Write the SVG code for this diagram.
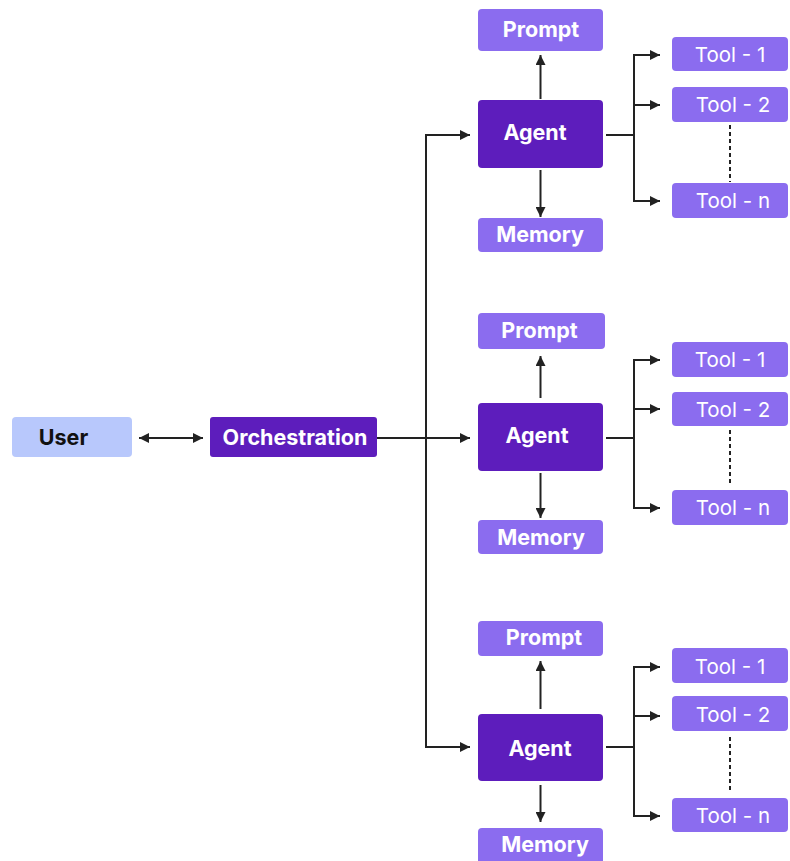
<svg xmlns="http://www.w3.org/2000/svg" width="790" height="861" viewBox="0 0 790 861">
<style>
.user{fill:#b8c8fc}
.dark{fill:#5d1dbc}
.light{fill:#8b6cef}
.t{font-family:Inter,"Liberation Sans",sans-serif;font-size:20.5px;fill:#fff;text-anchor:middle}
.b{font-weight:700;font-size:21.5px}
.k{fill:#111}
.c{fill:none;stroke:#222;stroke-width:2}
.d{fill:none;stroke:#222;stroke-width:2;stroke-dasharray:4 3}
</style>
<defs>
<marker id="ah" markerUnits="userSpaceOnUse" markerWidth="10" markerHeight="10" refX="10" refY="5" orient="auto-start-reverse">
<path d="M0,0 L10,5 L0,10 z" fill="#222"/>
</marker>
</defs>
<g id="connectors">
<line class="c" x1="139" y1="438" x2="203" y2="438" marker-start="url(#ah)" marker-end="url(#ah)"/>
<line class="c" x1="377" y1="438" x2="470" y2="438" marker-end="url(#ah)"/>
<path class="c" d="M470,135 H426 V747 H470" marker-start="url(#ah)" marker-end="url(#ah)"/>
<line class="c" x1="540.5" y1="99" x2="540.5" y2="55" marker-end="url(#ah)"/>
<line class="c" x1="540.5" y1="170" x2="540.5" y2="217" marker-end="url(#ah)"/>
<line class="c" x1="606" y1="135" x2="634" y2="135"/>
<path class="c" d="M660,55 H634 V201 H660" marker-start="url(#ah)" marker-end="url(#ah)"/>
<line class="c" x1="634" y1="105" x2="660" y2="105" marker-end="url(#ah)"/>
<line class="d" x1="730" y1="125" x2="730" y2="182"/>
<line class="c" x1="540.5" y1="398" x2="540.5" y2="356" marker-end="url(#ah)"/>
<line class="c" x1="540.5" y1="473" x2="540.5" y2="518" marker-end="url(#ah)"/>
<line class="c" x1="606" y1="438" x2="634" y2="438"/>
<path class="c" d="M660,360 H634 V508 H660" marker-start="url(#ah)" marker-end="url(#ah)"/>
<line class="c" x1="634" y1="409" x2="660" y2="409" marker-end="url(#ah)"/>
<line class="d" x1="730" y1="430" x2="730" y2="485"/>
<line class="c" x1="540.5" y1="709" x2="540.5" y2="661" marker-end="url(#ah)"/>
<line class="c" x1="540.5" y1="785" x2="540.5" y2="822" marker-end="url(#ah)"/>
<line class="c" x1="606" y1="747" x2="634" y2="747"/>
<path class="c" d="M660,667 H634 V816 H660" marker-start="url(#ah)" marker-end="url(#ah)"/>
<line class="c" x1="634" y1="716" x2="660" y2="716" marker-end="url(#ah)"/>
<line class="d" x1="730" y1="737" x2="730" y2="792"/>
</g>
<g id="user"><rect class="user" x="12" y="417" width="120" height="40" rx="4"/><text class="t b k" x="63.5" y="445">User</text></g>
<g id="orchestration"><rect class="dark" x="210" y="417" width="167" height="40" rx="3"/><text class="t b" x="295" y="445">Orchestration</text></g>

<g id="prompt1"><rect class="light" x="478" y="9" width="125" height="42" rx="4"/><text class="t b" x="541" y="37">Prompt</text></g>
<g id="agent1"><rect class="dark" x="478" y="100" width="125" height="68" rx="4"/><text class="t b" x="535" y="140">Agent</text></g>
<g id="memory1"><rect class="light" x="478" y="218" width="125" height="34" rx="4"/><text class="t b" x="540" y="242">Memory</text></g>
<g id="tool1-1"><rect class="light" x="672" y="37" width="116" height="34" rx="4"/><text class="t" x="730" y="62">Tool - 1</text></g>
<g id="tool1-2"><rect class="light" x="672" y="87" width="116" height="35" rx="4"/><text class="t" x="733" y="112">Tool - 2</text></g>
<g id="tool1-n"><rect class="light" x="672" y="183" width="116" height="35" rx="4"/><text class="t" x="733" y="208">Tool - n</text></g>

<g id="prompt2"><rect class="light" x="478" y="313" width="127" height="36" rx="4"/><text class="t b" x="539.5" y="338">Prompt</text></g>
<g id="agent2"><rect class="dark" x="478" y="403" width="125" height="68" rx="4"/><text class="t b" x="537" y="443">Agent</text></g>
<g id="memory2"><rect class="light" x="478" y="520" width="125" height="34" rx="4"/><text class="t b" x="541" y="545">Memory</text></g>
<g id="tool2-1"><rect class="light" x="672" y="342" width="116" height="35" rx="4"/><text class="t" x="730" y="367">Tool - 1</text></g>
<g id="tool2-2"><rect class="light" x="672" y="392" width="116" height="34" rx="4"/><text class="t" x="733" y="417">Tool - 2</text></g>
<g id="tool2-n"><rect class="light" x="672" y="490" width="116" height="35" rx="4"/><text class="t" x="733" y="515">Tool - n</text></g>

<g id="prompt3"><rect class="light" x="478" y="621" width="125" height="35" rx="4"/><text class="t b" x="544" y="645">Prompt</text></g>
<g id="agent3"><rect class="dark" x="478" y="714" width="125" height="67" rx="4"/><text class="t b" x="540" y="756">Agent</text></g>
<g id="memory3"><rect class="light" x="478" y="828" width="125" height="40" rx="4"/><text class="t b" x="545" y="852">Memory</text></g>
<g id="tool3-1"><rect class="light" x="672" y="648" width="116" height="35" rx="4"/><text class="t" x="730" y="674">Tool - 1</text></g>
<g id="tool3-2"><rect class="light" x="672" y="696" width="116" height="35" rx="4"/><text class="t" x="733" y="722">Tool - 2</text></g>
<g id="tool3-n"><rect class="light" x="672" y="798" width="116" height="34" rx="4"/><text class="t" x="733" y="823">Tool - n</text></g>
</svg>
